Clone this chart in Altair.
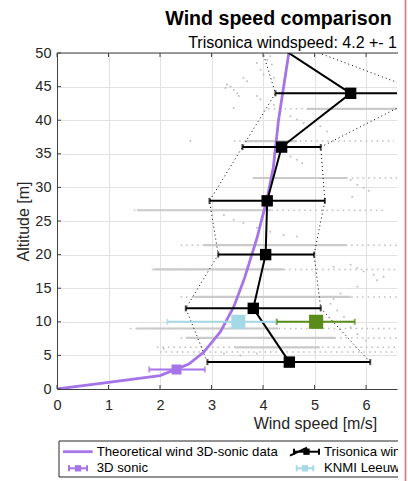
import altair as alt
import pandas as pd

FONT = "Liberation Sans"
PURPLE = "#a673e8"
LBLUE = "#a6d9e6"
GREEN = "#598c1a"
GREY = "#c6c6c6"
AX = "#404040"

# Theoretical wind profile (from 3D-sonic data)
theory_ws = [0.0, 1.0, 2.0, 2.56, 2.85, 3.17, 3.43, 3.64, 3.88, 4.08, 4.20, 4.30, 4.40, 4.50]
theory_alt = [0, 1, 2, 3.7, 5.5, 8.5, 12.2, 16.5, 22.4, 28.4, 33, 40, 45, 50]

# Trisonica wind speed (mean +- std)
tri_alt = [4, 12, 20, 28, 36, 44, 52]
tri_ws = [4.51, 3.81, 4.05, 4.08, 4.36, 5.70, 4.10]
tri_lo = [2.92, 2.50, 3.13, 2.96, 3.60, 4.24, 3.92]
tri_hi = [6.08, 5.12, 4.99, 5.20, 5.12, 7.16, 4.40]

# single-height measurements
sonic_alt, sonic_ws, sonic_lo, sonic_hi = [2.9], [2.32], [1.79], [2.87]
knmi_alt, knmi_ws, knmi_lo, knmi_hi = [10], [3.52], [2.14], [4.25]
green_alt, green_ws, green_lo, green_hi = [10], [5.03], [4.27], [5.78]

# raw Trisonica samples: dense bands and sparse extensions
band_alt = [41.7, 36.9, 31.4, 26.6, 21.4, 17.8, 13.7, 9.0, 7.6, 6.2, 5.5]
band_dense_lo = [4.85, 3.66, 3.82, 1.55, 2.85, 1.88, 2.65, 1.55, 2.50, 3.45, 3.0]
band_dense_hi = [6.60, 4.66, 5.63, 4.15, 5.63, 4.40, 5.70, 4.30, 5.40, 5.10, 3.0]
band_sparse_lo = [4.10, 3.43, 3.80, 1.49, 2.40, 1.84, 2.40, 1.42, 2.40, 1.94, 2.0]
band_sparse_hi = [6.60, 6.54, 6.60, 6.40, 6.60, 6.60, 6.60, 6.60, 6.60, 6.60, 6.6]

# scattered raw samples (trails between heights)
scat_ws = [3.88, 3.95, 4.01, 4.08, 4.14, 4.17, 4.21, 3.62, 3.69, 3.30, 3.37, 3.43, 3.50, 3.53,
           3.27, 3.88, 3.95, 4.21, 3.43, 4.53, 4.66, 4.79, 5.11, 5.24, 4.21, 4.53, 4.66, 4.76,
           2.59, 5.70, 5.83, 5.95, 6.05, 5.73, 3.24, 3.43, 3.62, 3.88, 4.14, 4.40, 4.66, 5.70,
           5.83, 5.95, 6.15, 5.37, 6.21, 6.34, 5.83, 5.50, 5.37, 5.31, 5.44, 5.57, 5.70, 5.83,
           6.00, 3.24, 3.56, 3.88, 2.07]
scat_alt = [48.5, 47.5, 46.8, 49.0, 49.5, 48.3, 46.3, 46.3, 45.8, 45.3, 45.0, 44.5, 44.0, 43.6,
            44.8, 43.6, 43.1, 42.3, 41.8, 40.6, 40.1, 39.6, 39.1, 38.3, 35.1, 34.6, 34.1, 33.6,
            36.9, 31.1, 30.4, 29.9, 29.5, 28.6, 25.9, 25.2, 24.7, 24.0, 23.4, 22.9, 22.7, 18.5,
            18.0, 17.5, 17.0, 18.2, 16.2, 16.7, 15.2, 14.2, 13.4, 12.7, 11.7, 10.7, 9.2, 8.2,
            7.2, 5.3, 5.0, 5.3, 6.0]

xticks = [0, 1, 2, 3, 4, 5, 6]
yticks = [0, 5, 10, 15, 20, 25, 30, 35, 40, 45, 50]

XS = alt.Scale(domain=[0, 6.6], nice=False, zero=False)
YS = alt.Scale(domain=[0, 50], nice=False)
XA = alt.Axis(values=xticks)
YA = alt.Axis(values=yticks)


def X(f="ws", **kw):
    return alt.X(f"{f}:Q", scale=XS, axis=XA, title="Wind speed [m/s]", **kw)


def Y(f="alt", **kw):
    return alt.Y(f"{f}:Q", scale=YS, axis=YA, title="Altitude [m]", **kw)


theory = pd.DataFrame({"ws": theory_ws, "alt": theory_alt})
tri = pd.DataFrame({"ws": tri_ws, "alt": tri_alt, "lo": tri_lo, "hi": tri_hi})
sonic = pd.DataFrame({"ws": sonic_ws, "alt": sonic_alt, "lo": sonic_lo, "hi": sonic_hi})
knmi = pd.DataFrame({"ws": knmi_ws, "alt": knmi_alt, "lo": knmi_lo, "hi": knmi_hi})
green = pd.DataFrame({"ws": green_ws, "alt": green_alt, "lo": green_lo, "hi": green_hi})
bands = pd.DataFrame({"alt": band_alt, "dlo": band_dense_lo, "dhi": band_dense_hi,
                      "slo": band_sparse_lo, "shi": band_sparse_hi})
scat = pd.DataFrame({"ws": scat_ws, "alt": scat_alt})
xt = pd.DataFrame({"ws": xticks})
yt = pd.DataFrame({"alt": yticks})
one = pd.DataFrame({"k": [0]})

top_border = alt.Chart(one).mark_rule(color=AX, strokeWidth=1).encode(
    x=alt.value(0), x2=alt.value(341), y=alt.value(0))
tick_b = alt.Chart(xt).mark_rule(color=AX).encode(x=X(), y=alt.value(336), y2=alt.value(332))
tick_t = alt.Chart(xt).mark_rule(color=AX).encode(x=X(), y=alt.value(0), y2=alt.value(4))
tick_l = alt.Chart(yt).mark_rule(color=AX).encode(y=Y(), x=alt.value(0), x2=alt.value(4))

sparse = alt.Chart(bands).mark_rule(color="#bdbdbd", strokeWidth=1.5, strokeDash=[1.5, 4], clip=True).encode(
    x=X("slo"), x2="shi:Q", y=Y())
dense = alt.Chart(bands).mark_rule(color="#cacaca", strokeWidth=2.2, clip=True).encode(
    x=X("dlo"), x2="dhi:Q", y=Y())
scatter = alt.Chart(scat).mark_circle(color="#c0c0c0", size=4, opacity=1).encode(x=X(), y=Y())

theory_line = alt.Chart(theory).mark_line(color=PURPLE, strokeWidth=2.8, clip=True).encode(
    x=X(), y=Y(), order="alt:Q")

env_lo = alt.Chart(tri).mark_line(color="black", strokeWidth=1, strokeDash=[1, 3], clip=True).encode(
    x=X("lo"), y=Y(), order="alt:Q")
env_hi = alt.Chart(tri).mark_line(color="black", strokeWidth=1, strokeDash=[1, 3], clip=True).encode(
    x=X("hi"), y=Y(), order="alt:Q")
tri_line = alt.Chart(tri).mark_line(color="black", strokeWidth=2, clip=True).encode(
    x=X(), y=Y(), order="alt:Q")


def errbar(df, color, sq, cap=6, w=2):
    bar = alt.Chart(df).mark_rule(color=color, strokeWidth=w, clip=True).encode(
        x=X("lo"), x2="hi:Q", y=Y())
    c1 = alt.Chart(df).mark_tick(color=color, orient="vertical", size=cap, thickness=w, clip=True).encode(
        x=X("lo"), y=Y())
    c2 = alt.Chart(df).mark_tick(color=color, orient="vertical", size=cap, thickness=w, clip=True).encode(
        x=X("hi"), y=Y())
    pt = alt.Chart(df).mark_square(color=color, size=sq, opacity=1, clip=True).encode(x=X(), y=Y())
    return [bar, c1, c2, pt]


layers = [sparse, dense, scatter, theory_line, env_lo, env_hi, tri_line]
layers += errbar(tri, "black", 130)
layers += errbar(sonic, PURPLE, 100)
layers += errbar(knmi, LBLUE, 200)
layers += errbar(green, GREEN, 200)
layers += [top_border, tick_b, tick_t, tick_l]

# titles
title = alt.Chart(one).mark_text(text="Wind speed comparison", font=FONT, fontSize=19.6,
                                 fontWeight="bold", align="center", baseline="alphabetic",
                                 color="black").encode(x=alt.value(221.5), y=alt.value(-28.5))
subtitle = alt.Chart(one).mark_text(text="Trisonica windspeed: 4.2 +- 1", font=FONT, fontSize=16,
                                    align="right", baseline="alphabetic",
                                    color="black").encode(x=alt.value(340), y=alt.value(-5.3))

# legend (manual)
LY1, LY2 = 398.7, 415.3
leg = []
leg.append(alt.Chart(one).mark_rect(fill="white", stroke="#262626", strokeWidth=1).encode(
    x=alt.value(2), x2=alt.value(380), y=alt.value(388), y2=alt.value(424)))
leg.append(alt.Chart(one).mark_rule(color=PURPLE, strokeWidth=2.8).encode(
    x=alt.value(6), x2=alt.value(35.7), y=alt.value(LY1)))
leg.append(alt.Chart(one).mark_rule(color=PURPLE, strokeWidth=2).encode(
    x=alt.value(12), x2=alt.value(30), y=alt.value(LY2)))
for xx in (12, 30):
    leg.append(alt.Chart(one).mark_rule(color=PURPLE, strokeWidth=2).encode(
        x=alt.value(xx), y=alt.value(LY2 - 3), y2=alt.value(LY2 + 3)))
leg.append(alt.Chart(one).mark_square(color=PURPLE, size=40, opacity=1).encode(
    x=alt.value(21), y=alt.value(LY2)))
# trisonica symbol
leg.append(alt.Chart(one).mark_rule(color="black", strokeWidth=2).encode(
    x=alt.value(237), x2=alt.value(262), y=alt.value(LY1)))
leg.append(alt.Chart(one).mark_rule(color="black", strokeWidth=2).encode(
    x=alt.value(233), x2=alt.value(250), y=alt.value(LY1 + 4), y2=alt.value(LY1 - 4)))
for xx in (237, 262):
    leg.append(alt.Chart(one).mark_rule(color="black", strokeWidth=2).encode(
        x=alt.value(xx), y=alt.value(LY1 - 3), y2=alt.value(LY1 + 3)))
leg.append(alt.Chart(one).mark_square(color="black", size=40, opacity=1).encode(
    x=alt.value(249.5), y=alt.value(LY1)))
# knmi symbol
leg.append(alt.Chart(one).mark_rule(color=LBLUE, strokeWidth=2).encode(
    x=alt.value(239.7), x2=alt.value(256.3), y=alt.value(LY2)))
for xx in (239.7, 256.3):
    leg.append(alt.Chart(one).mark_rule(color=LBLUE, strokeWidth=2).encode(
        x=alt.value(xx), y=alt.value(LY2 - 3), y2=alt.value(LY2 + 3)))
leg.append(alt.Chart(one).mark_square(color=LBLUE, size=40, opacity=1).encode(
    x=alt.value(248), y=alt.value(LY2)))

leg_text = [("Theoretical wind 3D-sonic data", 39.7, LY1), ("3D sonic", 39.7, LY2),
            ("Trisonica wind speed", 267, LY1), ("KNMI Leeuwarden", 267, LY2)]
for t, xx, yy in leg_text:
    leg.append(alt.Chart(one).mark_text(text=t, font=FONT, fontSize=13.2, align="left",
                                        baseline="middle", color="black").encode(
        x=alt.value(xx), y=alt.value(yy)))

# clipped right edge of the figure
cover = alt.Chart(one).mark_rect(fill="white").encode(
    x=alt.value(341), x2=alt.value(360), y=alt.value(-60), y2=alt.value(440))
redline = alt.Chart(one).mark_rule(color="#e87272", strokeWidth=1.6).encode(
    x=alt.value(348.5), y=alt.value(-60), y2=alt.value(440))

chart = alt.layer(*layers, title, subtitle, *leg, cover, redline).properties(
    width=340, height=336,
    autosize=alt.AutoSizeParams(type="none"),
    padding={"left": 57, "top": 53, "right": 11, "bottom": 92},
    background="white",
).configure_view(stroke=None).configure_axis(
    grid=True, gridColor="#e2e2e2", gridWidth=1, domainColor=AX, domainWidth=1, ticks=False,
    labelFont=FONT, labelFontSize=14.5, labelColor="#262626", titleFont=FONT, titleFontSize=16,
    titleFontWeight="normal", titleColor="#262626", labelFlush=False,
).configure_axisX(
    labelPadding=9, titleX=258, titleY=39, titleAlign="center", titleBaseline="alphabetic",
).configure_axisY(
    labelPadding=6, titleX=-28.5, titleY=168, titleAngle=-90, titleAlign="center",
    titleBaseline="alphabetic",
)

chart.save("out.html", embed_options={"renderer": "svg", "actions": False})
